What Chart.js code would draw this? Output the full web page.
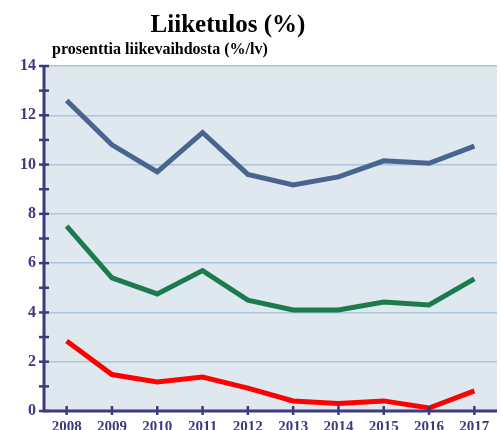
<!DOCTYPE html>
<html><head><meta charset="utf-8">
<script src="https://cdn.jsdelivr.net/npm/chart.js@4"></script>
<style>html,body{margin:0;padding:0;background:#fff}#wrap{width:501px;height:430px;position:relative}</style>
</head><body><div id="wrap"><canvas id="c" width="501" height="430"></canvas></div>
<script>
const years = ["2008","2009","2010","2011","2012","2013","2014","2015","2016","2017"];
const seriesBlue = [12.6, 10.8, 9.7, 11.3, 9.6, 9.17, 9.5, 10.15, 10.05, 10.75];
const seriesGreen = [7.5, 5.4, 4.75, 5.7, 4.5, 4.1, 4.1, 4.42, 4.3, 5.36];
const seriesRed = [2.84, 1.48, 1.18, 1.38, 0.93, 0.41, 0.3, 0.41, 0.12, 0.82];
const titleText = "Liiketulos (%)";
const subtitleText = "prosenttia liikevaihdosta (%/lv)";

const NAVY = "#3b3b7e";
const serif = "'Liberation Serif', 'DejaVu Serif', serif";

const deco = {
  id: 'deco',
  beforeDraw(chart) {
    const {ctx, chartArea: a} = chart;
    ctx.save();
    ctx.fillStyle = '#dfe7ef';
    ctx.fillRect(a.left, a.top, a.right - a.left, a.bottom - a.top);
    ctx.restore();
  },
  afterDraw(chart) {
    const {ctx} = chart;
    const x = chart.scales.x, y = chart.scales.y;
    ctx.save();
    ctx.strokeStyle = NAVY;
    ctx.lineWidth = 2.5;
    y.ticks.forEach(t => {
      const py = y.getPixelForValue(t.value);
      ctx.beginPath(); ctx.moveTo(x.left - 5, py); ctx.lineTo(x.left + 5, py); ctx.stroke();
    });
    x.ticks.forEach((t, i) => {
      const px = x.getPixelForValue(i);
      ctx.beginPath(); ctx.moveTo(px, y.bottom - 5); ctx.lineTo(px, y.bottom + 4); ctx.stroke();
    });
    ctx.lineWidth = 3;
    ctx.beginPath(); ctx.moveTo(x.left, y.top - 1); ctx.lineTo(x.left, y.bottom); ctx.lineTo(x.right, y.bottom); ctx.stroke();
    ctx.fillStyle = '#000';
    ctx.textAlign = 'center';
    ctx.textBaseline = 'alphabetic';
    ctx.font = "bold 25px " + serif;
    ctx.fillText(titleText, 228, 32);
    ctx.textAlign = 'left';
    ctx.font = "bold 16px " + serif;
    ctx.fillText(subtitleText, 52, 54);
    ctx.restore();
  }
};

const mk = (data, color) => ({
  data, borderColor: color, backgroundColor: color, borderWidth: 5,
  pointRadius: 0, tension: 0, fill: false, borderJoinStyle: 'miter', borderCapStyle: 'butt'
});

new Chart(document.getElementById('c'), {
  type: 'line',
  data: {
    labels: years,
    datasets: [mk(seriesBlue, '#4a6490'), mk(seriesGreen, '#1b7b4f'), mk(seriesRed, '#ff0000')]
  },
  plugins: [deco],
  options: {
    responsive: false, animation: false, devicePixelRatio: 1,
    layout: {padding: {top: 66, right: 4, left: 0, bottom: 0}},
    plugins: {legend: {display: false}, tooltip: {enabled: false}, title: {display: false}},
    scales: {
      x: {
        offset: true,
        grid: {display: false, drawTicks: true, tickLength: 7},
        border: {display: false},
        ticks: {color: NAVY, font: {family: serif, size: 15, weight: 'bold'}, padding: 0, maxRotation: 0, autoSkip: false},
        afterFit(s) { s.height = 19; }
      },
      y: {
        min: 0, max: 14,
        border: {display: false},
        grid: {
          color: c => (c.tick && c.tick.value % 2 === 0 && c.tick.value > 0) ? '#abc6d8' : 'rgba(0,0,0,0)',
          lineWidth: 1.5, tickColor: 'rgba(0,0,0,0)', tickLength: 6
        },
        ticks: {
          stepSize: 1, color: NAVY, padding: 2,
          font: {family: serif, size: 16, weight: 'bold'},
          callback: v => (v % 2 === 0 ? String(v) : '')
        },
        afterFit(s) { s.width = 44; }
      }
    }
  }
});
</script></body></html>
